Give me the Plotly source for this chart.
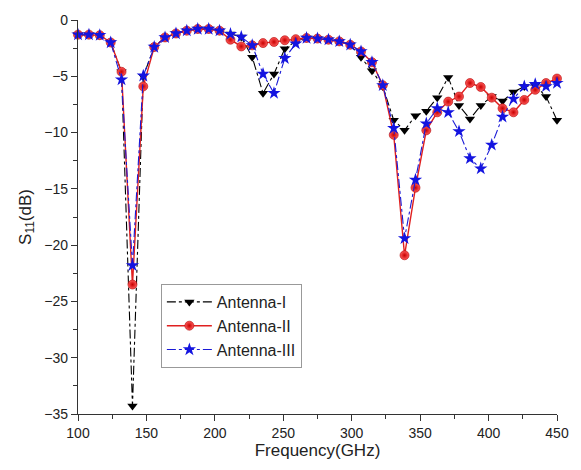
import plotly.graph_objects as go

freq = [100.0, 108.0, 115.9, 123.9, 131.8, 139.8, 147.7, 155.7, 163.6, 171.6,
        179.5, 187.5, 195.5, 203.4, 211.4, 219.3, 227.3, 235.2, 243.2, 251.1,
        259.1, 267.0, 275.0, 283.0, 290.9, 298.9, 306.8, 314.8, 322.7, 330.7,
        338.6, 346.6, 354.5, 362.5, 370.5, 378.4, 386.4, 394.3, 402.3, 410.2,
        418.2, 426.1, 434.1, 442.0, 450.0]

antenna_1 = [-1.3, -1.3, -1.35, -2.0, -4.6, -34.3, -5.0, -2.4, -1.55, -1.2,
             -0.95, -0.8, -0.8, -0.95, -1.25, -1.5, -3.3, -6.5, -4.8, -2.55,
             -1.9, -1.6, -1.65, -1.75, -1.9, -2.2, -3.3, -4.5, -5.9, -8.9,
             -9.8, -8.5, -8.1, -6.9, -5.1, -7.6, -8.8, -7.6, -6.8, -7.2,
             -6.4, -5.9, -5.8, -6.8, -8.9]

antenna_2 = [-1.3, -1.3, -1.35, -2.0, -4.6, -23.5, -5.9, -2.4, -1.55, -1.2,
             -0.95, -0.8, -0.8, -0.95, -1.75, -2.35, -2.25, -2.05, -1.95, -1.8,
             -1.7, -1.6, -1.65, -1.75, -1.9, -2.2, -2.8, -3.75, -5.8, -10.2,
             -20.9, -14.9, -9.8, -8.2, -7.25, -6.8, -5.6, -5.95, -6.9, -7.85,
             -8.2, -7.1, -6.2, -5.6, -5.2]

antenna_3 = [-1.3, -1.3, -1.35, -2.0, -5.3, -21.8, -4.95, -2.4, -1.55, -1.2,
             -0.95, -0.8, -0.8, -0.95, -1.25, -1.5, -2.25, -4.8, -6.5, -3.4,
             -2.1, -1.6, -1.65, -1.75, -1.9, -2.2, -2.8, -3.75, -5.8, -9.6,
             -19.4, -14.2, -9.2, -7.85, -8.2, -9.9, -12.3, -13.2, -11.1, -8.6,
             -7.0, -5.9, -5.7, -5.9, -5.6]

names = ["Antenna-I", "Antenna-II", "Antenna-III"]

FONT = "Liberation Sans, Arial, sans-serif"

fig = go.Figure()
fig.add_trace(go.Scatter(
    x=freq, y=antenna_1, name=names[0], mode="lines+markers",
    line=dict(color="black", width=1.1, dash="dashdot"),
    marker=dict(symbol="triangle-down", size=9, color="black"),
    cliponaxis=False,
))
fig.add_trace(go.Scatter(
    x=freq, y=antenna_2, name=names[1], mode="lines+markers",
    line=dict(color="#e02020", width=1.4),
    marker=dict(symbol="circle", size=9, color="#ff5a5a",
                gradient=dict(type="radial", color="#c80000"),
                line=dict(color="#b00000", width=0.6)),
    cliponaxis=False,
))
fig.add_trace(go.Scatter(
    x=freq, y=antenna_3, name=names[2], mode="lines+markers",
    line=dict(color="#1a1ad6", width=1.1, dash="dashdot"),
    marker=dict(symbol="star", size=10, color="#1414e0"),
    cliponaxis=False,
))

fig.update_layout(
    width=581, height=470,
    margin=dict(l=78, r=13, t=16, b=56),
    paper_bgcolor="white", plot_bgcolor="white",
    font=dict(family=FONT, color="#222", size=14),
    showlegend=True,
    legend=dict(
        x=0.173, y=0.33, xanchor="left", yanchor="top",
        bgcolor="white", bordercolor="#999", borderwidth=1,
        font=dict(size=16, family=FONT, color="#222"),
        itemwidth=45, tracegroupgap=0,
    ),
)

fig.update_xaxes(
    range=[100, 450], tickvals=[100, 150, 200, 250, 300, 350, 400, 450],
    showline=True, linecolor="#333", linewidth=1.2, mirror=False,
    ticks="outside", ticklen=6, tickcolor="#333", tickwidth=1.2,
    minor=dict(ticks="outside", ticklen=4, dtick=25, tickcolor="#333"),
    showgrid=False, zeroline=False,
    tickfont=dict(size=14, family=FONT, color="#222"),
    title=dict(text="Frequency(GHz)", font=dict(size=17, family=FONT, color="#222"), standoff=2),
)
fig.update_yaxes(
    range=[-35, 0], tickvals=[0, -5, -10, -15, -20, -25, -30, -35],
    showline=True, linecolor="#333", linewidth=1.2, mirror=False,
    ticks="outside", ticklen=6, tickcolor="#333", tickwidth=1.2,
    minor=dict(ticks="outside", ticklen=4, dtick=2.5, tickcolor="#333"),
    showgrid=False, zeroline=False,
    tickfont=dict(size=14, family=FONT, color="#222"),
    title=dict(text="S<sub>11</sub>(dB)", font=dict(size=17, family=FONT, color="#222"), standoff=8),
)

fig.write_html("out.html")
